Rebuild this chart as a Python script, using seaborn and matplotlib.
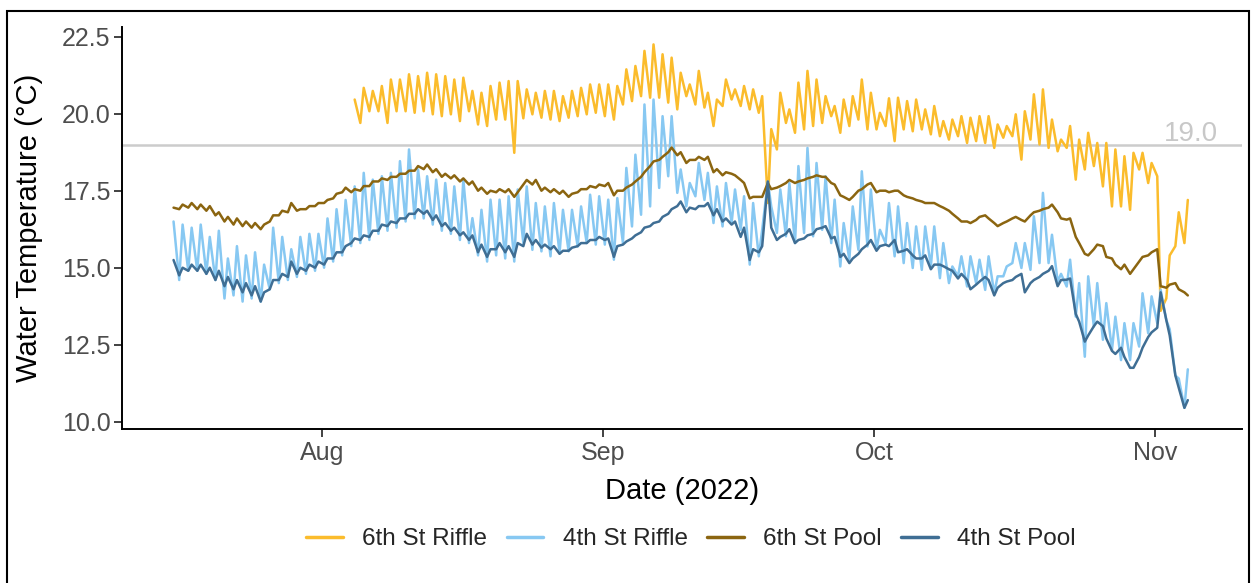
import numpy as np
import pandas as pd
import matplotlib
matplotlib.use("Agg")
import matplotlib.pyplot as plt
import matplotlib.dates as mdates
from matplotlib.patches import Rectangle
import seaborn as sns

nan = np.nan
site_names = ["6th St Riffle", "4th St Riffle", "6th St Pool", "4th St Pool"]
site_colors = ["#FBBC2C", "#87C8F2", "#8B6510", "#3F6E94"]
threshold = 19.0

# Morning (~06:00) and afternoon (~15:00) readings, one entry per day
riffle6_start = "2022-08-04"
riffle6_am = [nan, 19.70, 20.08, 20.08, 19.70, 20.08, 20.08, 20.03, 20.08, 19.98, 19.92,
              19.98, 19.76, 20.08, 19.65, 19.6, 19.81, 19.81, 18.73, 19.85, 19.98,
              19.87, 19.81, 19.76, 19.87, 19.92, 19.98, 20.03, 19.92, 19.81, 20.3,
              20.41, 20.57, 20.52, 20.52, 20.36, 20.14, 20.57, 20.3, 20.2, 19.6,
              20.25, 20.46, 20.25, 20.14, 20.03, 17.1, 18.84, 19.7, 19.38, 19.49,
              19.6, 19.7, 19.92, 19.38, 19.6, 19.81, 19.49, 19.49, 19.6, 19.11,
              19.49, 19.43, 19.49, 19.33, 19.27, 19.16, 19.27, 19.05, 19.11, 19.05,
              18.89, 19.22, 19.27, 18.51, 19.16, 19.0, 18.89, 18.78, 18.89, 17.86,
              18.19, 18.3, 17.64, 16.99, 16.99, 16.88, 18.19, 17.75, 17.97, 14.0,
              15.7, 15.8]
riffle6_pm = [20.46, 20.84, 20.74, 20.9, 21.11, 21.11, 21.28, 21.22, 21.33, 21.28,
              21.22, 21.11, 21.17, 20.74, 20.68, 20.9, 21.01, 21.06, 21.06, 20.79,
              20.68, 20.74, 20.74, 20.57, 20.74, 20.84, 20.95, 20.95, 20.95, 20.9,
              21.44, 21.55, 22.04, 22.25, 21.93, 21.82, 21.33, 20.95, 21.39, 20.68,
              20.46, 21.11, 20.79, 20.9, 20.79, 20.57, 19.5, 20.68, 20.14, 21.01,
              21.39, 21.11, 20.57, 20.25, 20.46, 20.57, 21.11, 20.68, 20.03, 20.5,
              20.52, 20.41, 20.46, 20.14, 20.25, 19.76, 19.81, 19.92, 19.87, 19.92,
              19.92, 19.65, 19.6, 19.98, 20.08, 20.63, 20.79, 19.81, 19.16, 19.6,
              19.16, 19.38, 19.05, 19.05, 18.84, 18.62, 18.73, 18.73, 18.4, 13.6,
              15.4, 16.8, 17.2]

riffle4_start = "2022-07-15"
riffle4_am = [nan, 14.6, 14.9, 14.9, 14.8, 14.6, 14.0, 14.1, 13.9, 14.0,
              13.9, 14.3, 14.5, 14.6, 14.7, 14.8, 14.9, 15.0, 15.2, 15.4,
              15.7, 15.8, 15.9, 16.1, 16.2, 16.3, 16.5, 16.6, 16.6, 16.4,
              16.2, 16.1, 15.9, 15.8, 15.4, 15.2, 15.4, 15.3, 15.2, 15.8,
              15.58, 15.53, 15.37, 15.47, 15.53, 15.69, 15.8, 15.75, 15.75, 15.26,
              15.8, 16.34, 16.72, 16.99, 17.59, 17.97, 17.43, 16.99, 17.32, 17.2,
              16.45, 16.34, 16.45, 16.23, 15.1, 15.37, 17.8, 16.13, 16.02, 15.8,
              16.13, 16.02, 16.23, 15.8, 15.04, 15.26, 15.58, 15.69, 15.58, 15.8,
              15.37, 15.15, 14.99, 14.93, 15.04, 14.66, 14.5, 14.72, 14.39, 14.5,
              14.28, 14.17, 14.72, 15.15, 14.99, 14.93, 15.15, 15.15, 14.55, 14.39,
              13.41, 12.11, 13.09, 12.66, 12.33, 12.0, 12.0, 12.44, 12.87, 13.2,
              13.3, 11.5, 10.45]
riffle4_pm = [16.5, 16.4, 16.3, 16.4, 16.0, 16.2, 15.3, 15.7, 15.4, 15.5,
              15.1, 16.3, 16.0, 15.6, 16.0, 16.1, 16.1, 16.6, 16.9, 17.2,
              17.64, 18.08, 17.86, 17.97, 18.08, 18.46, 18.84, 18.19, 17.97, 17.86,
              17.75, 17.64, 17.86, 16.61, 16.88, 17.21, 17.21, 17.32, 17.54, 17.64,
              17.1, 16.99, 17.1, 16.88, 16.88, 16.99, 17.37, 17.32, 17.21, 17.26,
              18.24, 18.67, 20.3, 20.46, 19.92, 19.92, 18.19, 17.75, 18.4, 18.08,
              17.64, 17.75, 17.54, 17.32, 17.1, 16.23, 16.99, 17.54, 17.75, 18.3,
              18.89, 18.4, 17.97, 17.21, 16.45, 16.99, 18.13, 17.54, 16.23, 17.1,
              16.99, 16.45, 16.34, 16.34, 16.34, 15.8, 15.04, 15.37, 15.37, 15.26,
              15.37, 14.72, 15.04, 15.8, 15.8, 16.67, 17.43, 16.07, 14.8, 15.26,
              14.5, 14.72, 14.5, 13.85, 13.41, 13.2, 13.2, 14.17, 14.07, 14.28,
              13.0, 11.4, 11.7]

pool6_start = "2022-07-15"
pool6_am = [nan, 16.9, 16.95, 16.9, 16.85, 16.7, 16.5, 16.4, 16.35, 16.3,
            16.25, 16.5, 16.7, 16.8, 16.85, 16.9, 17.0, 17.1, 17.25, 17.45,
            17.45, 17.5, 17.65, 17.8, 17.85, 17.95, 18.05, 18.15, 18.2, 18.1,
            17.95, 17.9, 17.8, 17.7, 17.5, 17.4, 17.45, 17.45, 17.3, 17.7,
            17.7, 17.5, 17.45, 17.4, 17.3, 17.45, 17.55, 17.6, 17.65, 17.35,
            17.5, 17.7, 17.95, 18.3, 18.5, 18.75, 18.65, 18.4, 18.5, 18.5,
            18.1, 18.0, 18.05, 17.85, 17.25, 17.3, 17.75, 17.6, 17.75, 17.75,
            17.85, 17.95, 17.95, 17.75, 17.35, 17.2, 17.5, 17.7, 17.45, 17.5,
            17.5, 17.35, 17.25, 17.15, 17.1, 17.0, 16.85, 16.6, 16.5, 16.55,
            16.7, 16.45, 16.45, 16.6, 16.55, 16.7, 16.85, 16.95, 16.8, 16.56,
            16.0, 15.45, 15.6, 15.7, 15.3, 14.95, 14.8, 15.2, 15.4, 15.6,
            14.35, 14.5, 14.2]
pool6_pm = [16.95, 17.05, 17.1, 17.05, 17.0, 16.8, 16.65, 16.6, 16.5, 16.45,
            16.4, 16.7, 16.85, 17.1, 16.9, 17.0, 17.1, 17.2, 17.4, 17.6,
            17.55, 17.65, 17.8, 17.9, 17.95, 18.05, 18.15, 18.3, 18.35, 18.2,
            18.05, 18.0, 17.9, 17.8, 17.6, 17.5, 17.55, 17.55, 17.45, 17.85,
            17.85, 17.6, 17.55, 17.5, 17.4, 17.55, 17.65, 17.7, 17.75, 17.5,
            17.6, 17.8, 18.1, 18.45, 18.6, 18.9, 18.75, 18.5, 18.6, 18.6,
            18.2, 18.1, 18.0, 17.75, 17.3, 17.3, 17.55, 17.65, 17.85, 17.8,
            17.9, 18.0, 17.95, 17.7, 17.3, 17.3, 17.55, 17.75, 17.5, 17.45,
            17.5, 17.3, 17.2, 17.1, 17.1, 16.95, 16.75, 16.5, 16.45, 16.65,
            16.6, 16.35, 16.5, 16.65, 16.5, 16.8, 16.9, 17.05, 16.6, 16.6,
            15.8, 15.4, 15.75, 15.35, 15.1, 15.1, 14.95, 15.35, 15.5, 14.4,
            14.45, 14.3, 14.1]

pool4_start = "2022-07-15"
pool4_am = [nan, 14.75, 14.9, 14.9, 14.8, 14.6, 14.4, 14.3, 14.2, 14.1,
            13.9, 14.3, 14.6, 14.7, 14.8, 14.9, 15.0, 15.1, 15.3, 15.5,
            15.8, 15.9, 16.0, 16.2, 16.35, 16.45, 16.6, 16.75, 16.75, 16.55,
            16.35, 16.2, 16.05, 15.9, 15.5, 15.35, 15.6, 15.5, 15.35, 15.7,
            15.75, 15.65, 15.6, 15.45, 15.55, 15.7, 15.8, 15.9, 15.9, 15.35,
            15.75, 15.95, 16.15, 16.35, 16.5, 16.75, 17.0, 16.8, 16.9, 17.0,
            16.7, 16.5, 16.4, 16.0, 15.25, 15.5, 17.8, 15.9, 16.1, 15.8,
            15.95, 16.1, 16.3, 15.95, 15.35, 15.15, 15.45, 15.75, 15.55, 15.75,
            15.9, 15.55, 15.4, 15.3, 14.95, 15.1, 14.95, 14.65, 14.6, 14.45,
            14.7, 14.1, 14.5, 14.6, 14.8, 14.5, 14.7, 14.9, 14.4, 14.61,
            13.5, 12.6, 13.1, 13.1, 12.3, 12.4, 11.75, 12.1, 12.75, 13.05,
            13.3, 11.5, 10.45]
pool4_pm = [15.25, 15.0, 15.1, 15.1, 15.0, 14.9, 14.7, 14.6, 14.5, 14.4,
            14.2, 14.6, 14.8, 15.2, 15.0, 15.1, 15.2, 15.3, 15.5, 15.7,
            15.95, 16.05, 16.2, 16.4, 16.5, 16.6, 16.75, 16.9, 16.85, 16.7,
            16.45, 16.3, 16.15, 16.05, 15.75, 15.6, 15.8, 15.7, 15.8, 16.1,
            15.9, 15.75, 15.7, 15.55, 15.65, 15.8, 15.9, 16.0, 15.95, 15.7,
            15.85, 16.05, 16.3, 16.45, 16.65, 16.9, 17.15, 16.95, 17.0, 17.1,
            16.9, 16.6, 16.5, 16.3, 15.6, 15.7, 16.3, 16.0, 16.25, 15.9,
            16.05, 16.25, 16.35, 16.0, 15.45, 15.3, 15.6, 15.9, 15.7, 15.7,
            15.5, 15.6, 15.3, 15.4, 15.1, 15.05, 14.9, 14.8, 14.3, 14.55,
            14.6, 14.35, 14.55, 14.7, 14.2, 14.6, 14.8, 15.05, 14.6, 14.65,
            13.25, 12.8, 13.25, 12.7, 12.2, 12.1, 11.75, 12.4, 12.9, 14.2,
            12.8, 11.1, 10.7]


def build(name, start, am, pm):
    days = pd.date_range(start, periods=len(am), freq="D")
    t_am = days + pd.Timedelta(hours=6)
    t_pm = days + pd.Timedelta(hours=15)
    times = np.empty(2 * len(am), dtype="datetime64[ns]")
    times[0::2] = t_am.values
    times[1::2] = t_pm.values
    vals = np.empty(2 * len(am))
    vals[0::2] = am
    vals[1::2] = pm
    return pd.DataFrame({"time": times, "temp": vals, "site": name})


df = pd.concat([
    build(site_names[0], riffle6_start, riffle6_am, riffle6_pm),
    build(site_names[1], riffle4_start, riffle4_am, riffle4_pm),
    build(site_names[2], pool6_start, pool6_am, pool6_pm),
    build(site_names[3], pool4_start, pool4_am, pool4_pm),
], ignore_index=True).dropna()

sns.set_style("ticks")
plt.rcParams["font.family"] = ["Liberation Sans", "DejaVu Sans"]

W, H = 1255, 583
fig = plt.figure(figsize=(W / 100, H / 100), dpi=100)
ax_l, ax_r, ax_t, ax_b = 121.7, 1241.7, 26.7, 429.0
ax = fig.add_axes([ax_l / W, 1 - ax_b / H, (ax_r - ax_l) / W, (ax_b - ax_t) / H])

ax.axhline(threshold, color="#CCCCCC", lw=1.8, zorder=1)

sns.lineplot(data=df, x="time", y="temp", hue="site", hue_order=site_names,
             palette=site_colors, estimator=None, sort=False, linewidth=1.8,
             ax=ax, legend=True, zorder=2)
for ln in ax.get_lines():
    ln.set_solid_joinstyle("round")

ax.text((1218 - ax_l) / (ax_r - ax_l), threshold + 0.12, f"{threshold:.1f}",
        transform=ax.get_yaxis_transform(), ha="right", va="baseline",
        fontsize=20, color="#C8C8C8")

ax.set_xlim(pd.Timestamp("2022-07-09 21:36"), pd.Timestamp("2022-11-10 13:48"))
ax.set_ylim(9.763, 22.825)
ax.set_yticks([10.0, 12.5, 15.0, 17.5, 20.0, 22.5])
ax.yaxis.set_major_formatter(matplotlib.ticker.FormatStrFormatter("%.1f"))
ax.xaxis.set_major_locator(mdates.MonthLocator(bymonth=[8, 9, 10, 11]))
ax.xaxis.set_major_formatter(mdates.DateFormatter("%b"))

for s in ["top", "right"]:
    ax.spines[s].set_visible(False)
for s in ["left", "bottom"]:
    ax.spines[s].set_linewidth(1.4)
    ax.spines[s].set_color("black")
ax.tick_params(direction="out", length=6, width=1.3, color="#333333",
               labelsize=18, labelcolor="#4D4D4D")
ax.tick_params(axis="x", pad=2.5)
ax.tick_params(axis="y", pad=2)
ax.grid(False)

ax.set_xlabel("Date (2022)", fontsize=21, color="black")
ax.set_ylabel("Water Temperature (°C)", fontsize=21, color="black")
ax.xaxis.set_label_coords(0.5, (ax_b - 477) / (ax_b - ax_t))
ax.yaxis.set_label_coords((43 - ax_l) / (ax_r - ax_l), 0.5)

sns.move_legend(ax, "center", bbox_to_anchor=(691 / W, 1 - 539 / H),
                bbox_transform=fig.transFigure, ncol=4, title=None, frameon=False,
                fontsize=17.5, handlelength=1.5, handletextpad=0.8, columnspacing=0.8)
for line in ax.get_legend().get_lines():
    line.set_linewidth(2.5)

fig.add_artist(Rectangle((6.5 / W, -0.02), (1249 - 6.5) / W, 1.02 - 11 / H,
                         transform=fig.transFigure, fill=False,
                         edgecolor="black", linewidth=1.5))

fig.savefig("out.png", dpi=100)
